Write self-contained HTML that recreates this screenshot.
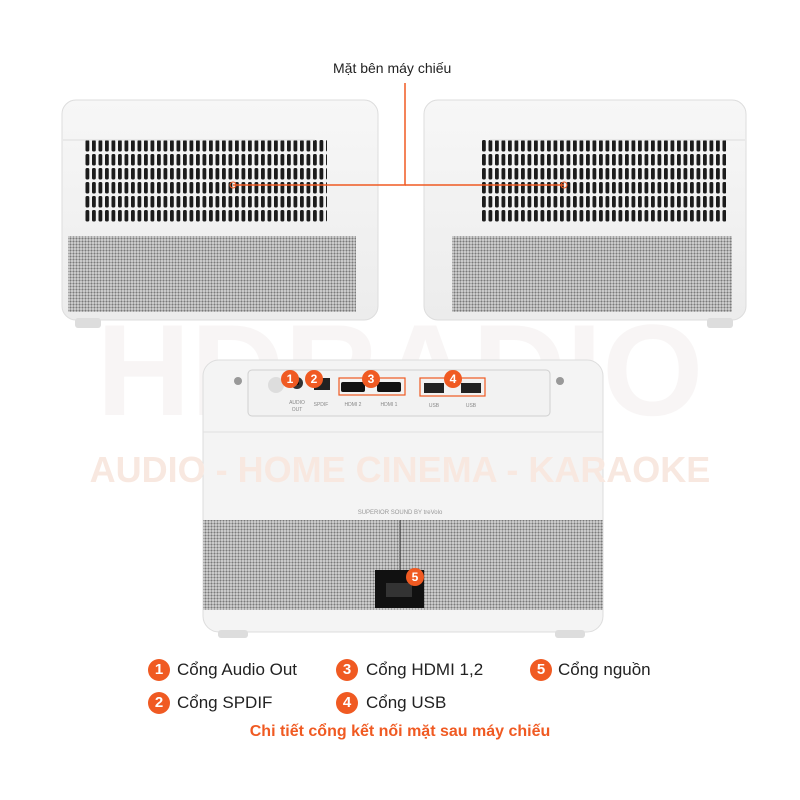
<!DOCTYPE html>
<html><head><meta charset="utf-8"><style>
html,body{margin:0;padding:0;background:#fff;}
body{width:800px;height:800px;position:relative;overflow:hidden;font-family:"Liberation Sans",sans-serif;}
.t{position:absolute;font-size:17px;color:#222;white-space:nowrap;line-height:20px}
.c{position:absolute;width:22px;height:22px;border-radius:50%;background:#f05a22;color:#fff;font-weight:bold;font-size:15px;text-align:center;line-height:22px}
</style></head><body>
<svg width="800" height="800" style="position:absolute;left:0;top:0">
<defs>
<pattern id="vent" width="6.5" height="14" patternUnits="userSpaceOnUse"><rect x="1" y="0" width="3.8" height="11.5" rx="1.5" fill="#1c1c1c"/></pattern>
<pattern id="gr" width="3" height="3" patternUnits="userSpaceOnUse"><rect width="3" height="3" fill="#d8d8d8"/><circle cx="1.5" cy="1.5" r="1.1" fill="#7a7a7a"/></pattern>
<linearGradient id="bd" x1="0" y1="0" x2="0" y2="1"><stop offset="0" stop-color="#f7f7f7"/><stop offset="1" stop-color="#ececec"/></linearGradient>
</defs>
<text x="400" y="415" text-anchor="middle" font-family="Liberation Sans" font-weight="bold" font-size="130" fill="#f4f0ef" opacity="0.6">HDRADIO</text>
<rect x="62" y="100" width="316" height="220" rx="14" fill="url(#bd)" stroke="#ddd"/>
<rect x="85" y="140" width="242" height="84" fill="url(#vent)"/>
<rect x="68" y="236" width="288" height="76" fill="url(#gr)"/>
<line x1="63" y1="140" x2="315" y2="140" stroke="#ddd"/>
<rect x="75" y="318" width="26" height="10" rx="3" fill="#ddd"/>
<rect x="424" y="100" width="322" height="220" rx="14" fill="url(#bd)" stroke="#ddd"/>
<rect x="480" y="140" width="246" height="84" fill="url(#vent)"/>
<rect x="452" y="236" width="280" height="76" fill="url(#gr)"/>
<line x1="490" y1="140" x2="745" y2="140" stroke="#ddd"/>
<rect x="707" y="318" width="26" height="10" rx="3" fill="#ddd"/>
<polyline points="233,185 405,185 405,83" fill="none" stroke="#f05a22" stroke-width="1.5"/>
<line x1="405" y1="185" x2="564" y2="185" stroke="#f05a22" stroke-width="1.5"/>
<circle cx="233" cy="185" r="3" fill="none" stroke="#f05a22"/>
<circle cx="564" cy="185" r="3" fill="none" stroke="#f05a22"/>
<rect x="203" y="360" width="400" height="272" rx="16" fill="#f4f4f4" stroke="#ddd"/>
<line x1="203" y1="432" x2="603" y2="432" stroke="#e0e0e0"/>
<rect x="248" y="370" width="302" height="46" rx="4" fill="#f2f2f2" stroke="#d0d0d0"/>
<circle cx="238" cy="381" r="4" fill="#999"/><circle cx="560" cy="381" r="4" fill="#999"/>
<circle cx="276" cy="385" r="8" fill="#ddd"/>
<circle cx="297" cy="383" r="6" fill="#333"/><circle cx="297" cy="383" r="2" fill="#000"/>
<rect x="314" y="378" width="16" height="12" fill="#222"/>
<rect x="341" y="382" width="24" height="10" rx="2" fill="#111"/>
<rect x="377" y="382" width="24" height="10" rx="2" fill="#111"/>
<rect x="339" y="378" width="66" height="17" fill="none" stroke="#f05a22" stroke-width="1.2"/>
<rect x="424" y="383" width="20" height="10" fill="#222"/>
<rect x="461" y="383" width="20" height="10" fill="#222"/>
<rect x="420" y="378" width="65" height="18" fill="none" stroke="#f05a22" stroke-width="1.2"/>
<text x="297" y="404" font-size="5" text-anchor="middle" fill="#888">AUDIO</text>
<text x="297" y="411" font-size="5" text-anchor="middle" fill="#888">OUT</text>
<text x="321" y="406" font-size="5" text-anchor="middle" fill="#888">SPDIF</text>
<text x="353" y="406" font-size="5" text-anchor="middle" fill="#888">HDMI 2</text>
<text x="389" y="406" font-size="5" text-anchor="middle" fill="#888">HDMI 1</text>
<text x="434" y="407" font-size="5" text-anchor="middle" fill="#888">USB</text>
<text x="471" y="407" font-size="5" text-anchor="middle" fill="#888">USB</text>
<text x="400" y="482" text-anchor="middle" font-family="Liberation Sans" font-weight="bold" font-size="36" fill="#f8e8e0">AUDIO - HOME CINEMA - KARAOKE</text>
<text x="400" y="514" text-anchor="middle" font-size="6" fill="#999">SUPERIOR SOUND BY treVolo</text>
<rect x="203" y="520" width="400" height="90" fill="url(#gr)"/>
<line x1="400" y1="520" x2="400" y2="570" stroke="#333"/>
<rect x="375" y="570" width="49" height="38" fill="#111"/>
<rect x="386" y="583" width="26" height="14" fill="#333"/>
<rect x="218" y="630" width="30" height="8" rx="3" fill="#ddd"/>
<rect x="555" y="630" width="30" height="8" rx="3" fill="#ddd"/>
</svg>
<div class="c" style="left:281px;top:370px;width:18px;height:18px;line-height:18px;font-size:12px">1</div>
<div class="c" style="left:305px;top:370px;width:18px;height:18px;line-height:18px;font-size:12px">2</div>
<div class="c" style="left:362px;top:370px;width:18px;height:18px;line-height:18px;font-size:12px">3</div>
<div class="c" style="left:444px;top:370px;width:18px;height:18px;line-height:18px;font-size:12px">4</div>
<div class="c" style="left:406px;top:568px;width:18px;height:18px;line-height:18px;font-size:12px">5</div>
<div class="t" style="left:333px;top:58px;font-size:14px">Mặt bên máy chiếu</div>
<div class="c" style="left:148px;top:659px">1</div><div class="t" style="left:177px;top:660px">Cổng Audio Out</div>
<div class="c" style="left:336px;top:659px">3</div><div class="t" style="left:366px;top:660px">Cổng HDMI 1,2</div>
<div class="c" style="left:530px;top:659px">5</div><div class="t" style="left:558px;top:660px">Cổng nguồn</div>
<div class="c" style="left:148px;top:692px">2</div><div class="t" style="left:177px;top:693px">Cổng SPDIF</div>
<div class="c" style="left:336px;top:692px">4</div><div class="t" style="left:366px;top:693px">Cổng USB</div>
<div class="t" style="left:0;width:800px;text-align:center;top:722px;color:#f05a22;font-weight:bold;font-size:16px">Chi tiết cổng kết nối mặt sau máy chiếu</div>
</body></html>
